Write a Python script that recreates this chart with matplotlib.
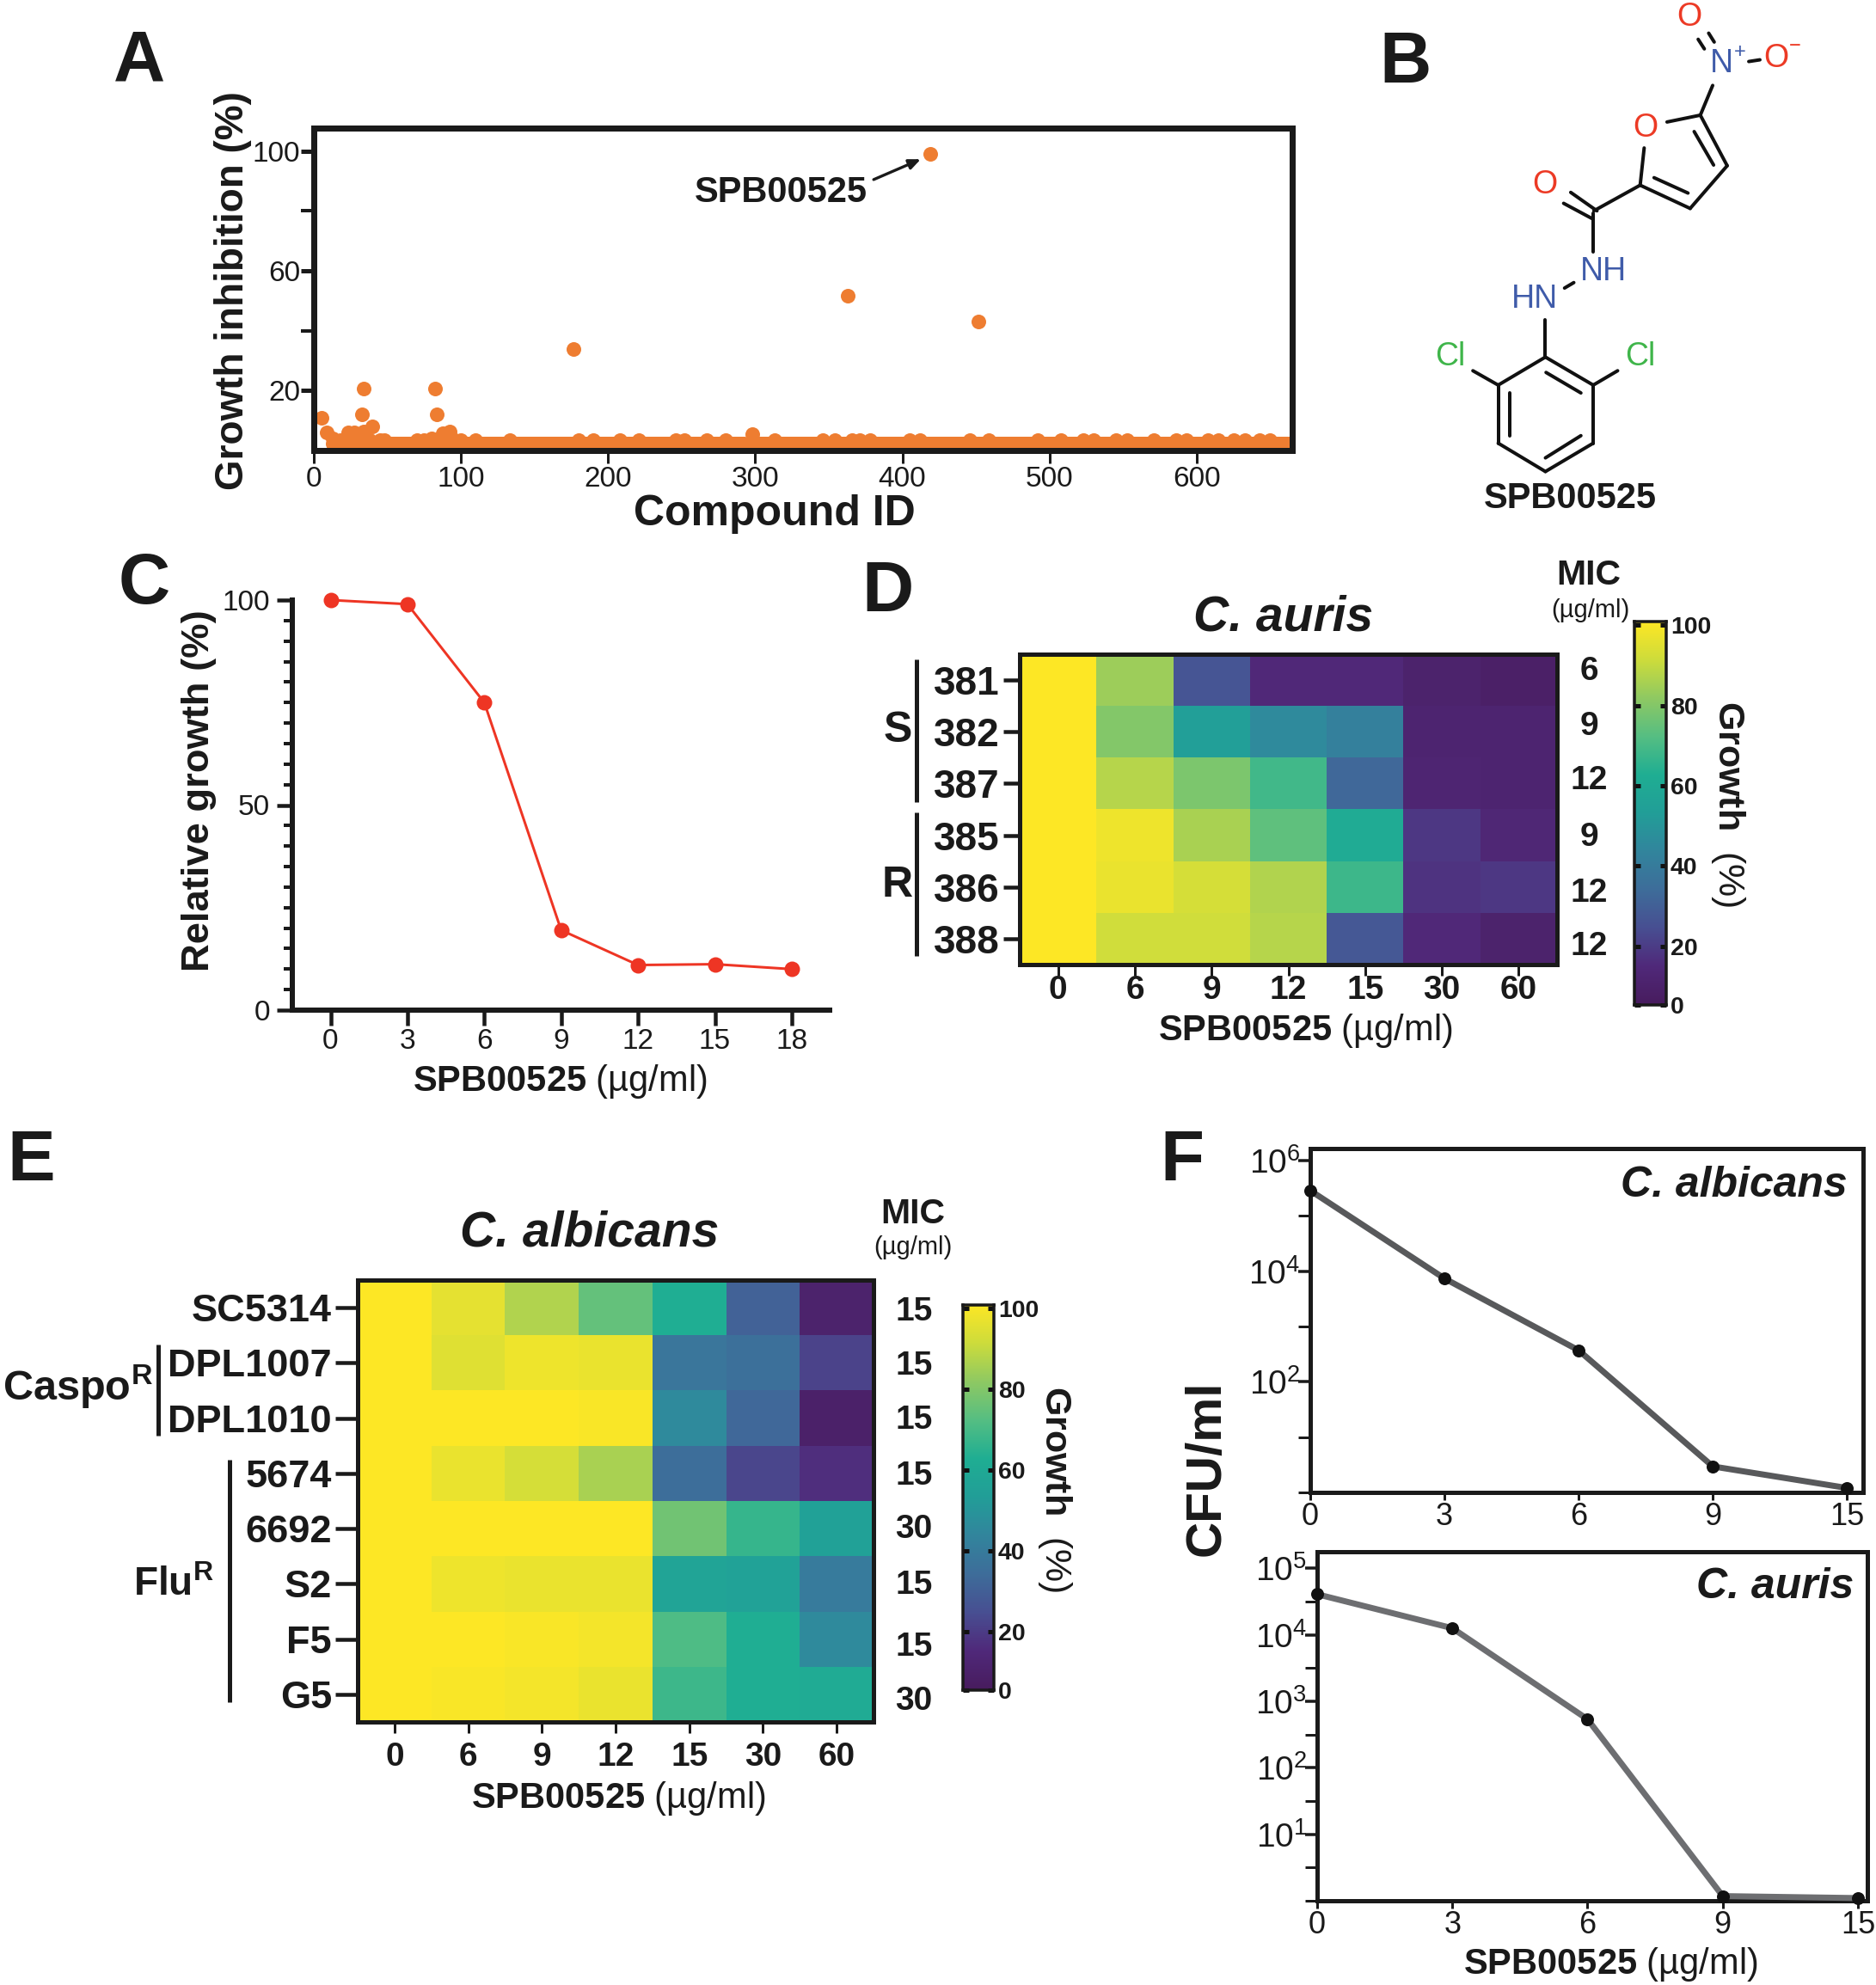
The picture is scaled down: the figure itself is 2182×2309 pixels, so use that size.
import numpy as np
import matplotlib
matplotlib.use("Agg")
import matplotlib.pyplot as plt
from matplotlib.colors import LinearSegmentedColormap

plt.rcParams['font.family'] = ['Liberation Sans', 'DejaVu Sans']
plt.rcParams['mathtext.fontset'] = 'custom'
plt.rcParams['mathtext.rm'] = 'Liberation Sans'
plt.rcParams['mathtext.bf'] = 'Liberation Sans:bold'
plt.rcParams['mathtext.it'] = 'Liberation Sans:italic'
plt.rcParams['mathtext.default'] = 'regular'

# ---------- data ----------
a_hit_ids = [5.4, 9, 13, 23.5, 27.5, 33, 34, 33.7, 40, 82.6, 83.6, 80, 87.5, 92.6, 176.5, 298, 363, 419, 452]
a_hit_vals = [10.8, 6, 4, 6, 6, 12, 6.2, 20.6, 8, 20.6, 12.2, 4, 5.8, 6.2, 34, 5.4, 51.8, 99, 43]
a_bump_ids = [18, 20, 22, 25, 30, 37, 38, 45, 48, 70, 75, 88, 90, 95, 96, 100, 110, 133, 180, 190, 208, 221, 246,
              252, 267, 280, 313, 346, 354, 366, 371, 378, 405, 412, 446, 459, 492, 508, 523, 530, 545, 553,
              571, 586, 593, 608, 615, 625, 633, 643, 650]
a_bump_val = 3.4
a_floor_first, a_floor_last = 13, 664
a_floor_val = 2.2
a_floor_gap = [293, 294, 295, 296, 297, 299, 300, 301]

c_dose = [0, 3, 6, 9, 12, 15, 18]
c_growth = [100, 99, 75, 19.5, 11, 11.2, 10]

dose_labels = ['0', '6', '9', '12', '15', '30', '60']
d_strains = ['381', '382', '387', '385', '386', '388']
d_mic = ['6', '9', '12', '9', '12', '12']
d_381 = [100, 83, 26, 14, 14, 10, 8]
d_382 = [100, 79, 53, 45, 41, 11, 11]
d_387 = [100, 87, 78, 68, 32, 12, 11]
d_385 = [100, 97, 85, 73, 60, 18, 13]
d_386 = [100, 96, 92, 86, 67, 17, 18]
d_388 = [100, 91, 91, 87, 27, 14, 10]

e_strains = ['SC5314', 'DPL1007', 'DPL1010', '5674', '6692', 'S2', 'F5', 'G5']
e_mic = ['15', '15', '15', '15', '30', '15', '15', '30']
e_sc = [100, 95, 86, 74, 62, 30, 10]
e_1007 = [100, 94, 97, 96, 37, 35, 21]
e_1010 = [100, 100, 100, 99, 45, 32, 9]
e_5674 = [100, 96, 92, 85, 34, 22, 16]
e_6692 = [100, 100, 100, 100, 76, 66, 54]
e_s2 = [100, 97, 96, 96, 56, 55, 39]
e_f5 = [100, 100, 99, 98, 70, 62, 45]
e_g5 = [100, 99, 98, 96, 67, 62, 60]

f_dose = ['0', '3', '6', '9', '15']
f_albicans = [10**5.46, 10**3.87, 10**2.57, 10**0.47, 10**0.08]
f_auris = [10**4.61, 10**4.1, 10**2.73, 10**0.07, 10**0.04]

W, H = 2182, 2309
DPI = 100
PX = 72 / DPI
fig = plt.figure(figsize=(W / DPI, H / DPI), dpi=DPI, facecolor='white')
INK = '#1a1a1a'


def box(l, t, r, b, **kw):
    return fig.add_axes([l / W, 1 - b / H, (r - l) / W, (b - t) / H], **kw)


def T(x, y, s, size, weight='normal', style='normal', ha='center', va='center', rotation=0, color=INK, **kw):
    return fig.text(x / W, 1 - y / H, s, fontsize=size, fontweight=weight, fontstyle=style,
                    ha=ha, va=va, rotation=rotation, color=color, **kw)


def spines(ax, lw_px, which=('left', 'right', 'top', 'bottom')):
    for k, s in ax.spines.items():
        s.set_visible(k in which)
        s.set_linewidth(lw_px * PX)
        s.set_color(INK)
        s.set_zorder(10)


# overlay for annotation artwork in pixel coordinates
ov = fig.add_axes([0, 0, 1, 1], zorder=20)
ov.set_xlim(0, W)
ov.set_ylim(H, 0)
ov.axis('off')
ov.patch.set_alpha(0)


def seg(x0, y0, x1, y1, lw=5, color=INK):
    ov.plot([x0, x1], [y0, y1], color=color, lw=lw * PX, solid_capstyle='butt')


# panel letters
for s, x, y in [('A', 162, 72), ('B', 1634, 74), ('C', 168, 680), ('D', 1033, 689), ('E', 36, 1351), ('F', 1375, 1351)]:
    T(x, y, s, 60, weight='bold')

# ---------- Panel A ----------
axA = box(365, 149, 1503, 524)
spines(axA, 7)
floor_ids = [i for i in np.arange(a_floor_first, a_floor_last + 1) if i not in a_floor_gap]
DOT = (17 * PX) ** 2
axA.scatter(floor_ids, [a_floor_val] * len(floor_ids), s=DOT, c='#ee7d31', linewidths=0)
axA.scatter(a_bump_ids, [a_bump_val] * len(a_bump_ids), s=DOT, c='#ee7d31', linewidths=0)
axA.scatter(a_hit_ids, a_hit_vals, s=DOT, c='#ee7d31', linewidths=0)
axA.set_xlim(0, 665)
axA.set_ylim(0, 107.7)
axA.set_xticks(range(0, 601, 100))
axA.set_yticks([20, 60, 100])
axA.set_yticks([40, 80], minor=True)
axA.tick_params(axis='x', length=15 * PX, width=3 * PX, labelsize=24, pad=3 * PX, color=INK, labelcolor=INK)
axA.tick_params(axis='y', which='major', length=15 * PX, width=5 * PX, labelsize=24, pad=1 * PX, color=INK, labelcolor=INK)
axA.tick_params(axis='y', which='minor', length=15 * PX, width=4 * PX, color=INK)
axA.annotate('', xy=(412.5, 97.3), xytext=(380.5, 90.5),
             arrowprops=dict(arrowstyle='-|>,head_width=0.35,head_length=0.8', lw=2.4, color=INK, shrinkA=0, shrinkB=0))
T(908, 224, 'SPB00525', 30, weight='bold')
T(271, 338, 'Growth inhibition (%)', 33, weight='bold', rotation=90)
T(901, 598, 'Compound ID', 36, weight='bold')

# ---------- Panel B ----------
RED, BLUE, GREEN = '#ec3a25', '#3f5ba9', '#3fb54a'


def bx(z):
    return 1599 + z / 2.786


def by(z):
    return 2 + z / 2.516


bonds = [(1095, 245, 1055, 332), (1082, 92, 1100, 118), (1048, 110, 1068, 138), (1212, 175, 1248, 170),
         (947, 352, 1055, 332), (1055, 332, 1142, 480), (1035, 380, 1098, 478), (1142, 480, 1022, 605),
         (1022, 605, 860, 537), (905, 515, 1015, 560), (860, 537, 873, 428), (860, 537, 710, 612),
         (720, 612, 635, 558), (705, 635, 612, 590), (708, 620, 708, 732), (615, 838, 645, 822),
         (553, 930, 553, 1040), (553, 1040, 708, 1122), (708, 1122, 708, 1292), (708, 1292, 553, 1375),
         (553, 1375, 400, 1292), (400, 1292, 400, 1122), (400, 1122, 553, 1040), (555, 1085, 668, 1145),
         (668, 1270, 553, 1335), (438, 1270, 438, 1145), (318, 1080, 400, 1122), (708, 1122, 787, 1080)]
for a, b, c, d in bonds:
    ov.plot([bx(a), bx(c)], [by(b), by(d)], color='#111111', lw=4 * PX, solid_capstyle='round')
for s, zx, zy, col in [('O', 1018, 45, RED), ('N', 1125, 180, BLUE), ('O', 1300, 165, RED), ('O', 878, 370, RED),
                       ('O', 552, 535, RED), ('NH', 742, 790, BLUE), ('HN', 517, 870, BLUE),
                       ('Cl', 245, 1038, GREEN), ('Cl', 860, 1038, GREEN), ('+', 1183, 148, BLUE), ('\u2212', 1362, 130, RED)]:
    sz = 17 if s in ('+', '\u2212') else 27
    T(bx(zx), by(zy), s, sz, color=col)
T(1826, 580, 'SPB00525', 30, weight='bold')

# ---------- Panel C ----------
axC = box(340, 698, 965, 1175)
spines(axC, 6, which=('left', 'bottom'))
axC.plot(c_dose, c_growth, color='#ee3524', lw=3 * PX, marker='o', ms=18 * PX, mec='none', clip_on=False)
axC.set_xlim((340 - 384.5) / 29.8, (965 - 384.5) / 29.8)
axC.set_ylim(0, 100)
axC.set_xticks(c_dose)
axC.set_yticks([0, 50, 100])
axC.set_yticks([v for v in range(5, 100, 5) if v != 50], minor=True)
axC.tick_params(axis='x', which='major', length=18 * PX, width=4.5 * PX, labelsize=24, pad=3 * PX, color=INK, labelcolor=INK)
axC.tick_params(axis='y', which='major', length=18 * PX, width=4.5 * PX, labelsize=24, pad=8 * PX, color=INK, labelcolor=INK)
axC.tick_params(axis='y', which='minor', length=10 * PX, width=4 * PX, color=INK)
T(231, 920, 'Relative growth (%)', 32.7, weight='bold', rotation=90)
T(651, 1258, r'$\mathbf{SPB00525}$ (µg/ml)', 30)

# ---------- Heatmaps ----------
cmap = LinearSegmentedColormap.from_list('print_viridis', [
    (0.00, '#481c5e'), (0.10, '#50297a'), (0.20, '#484f92'), (0.30, '#3e6d9a'), (0.40, '#32859d'),
    (0.50, '#229e98'), (0.60, '#1fae93'), (0.70, '#55be83'), (0.80, '#8ec963'), (0.90, '#cddc3c'), (1.00, '#fde725')])


def heat(l, t, r, b, rows, labels, fs_row, xpad, ytick_len):
    ax = box(l, t, r, b)
    spines(ax, 5)
    ax.pcolormesh(np.array(rows, float), cmap=cmap, vmin=5, vmax=100, linewidth=0, rasterized=True)
    ax.invert_yaxis()
    ax.set_xticks(np.arange(7) + 0.5, dose_labels)
    ax.set_yticks(np.arange(len(labels)) + 0.5, labels)
    ax.tick_params(axis='x', length=13 * PX, width=3 * PX, labelsize=28, pad=xpad * PX, color=INK, labelcolor=INK)
    ax.tick_params(axis='y', length=ytick_len * PX, width=4.5 * PX, labelsize=fs_row, pad=4 * PX, color=INK, labelcolor=INK)
    for t_ in ax.get_xticklabels() + ax.get_yticklabels():
        t_.set_fontweight('bold')
    return ax


def cbar(l, t, r, b):
    ax = box(l, t, r, b)
    spines(ax, 3.5)
    grad = np.linspace(5, 100, 256).reshape(-1, 1)
    ax.imshow(grad, origin='lower', aspect='auto', cmap=cmap, vmin=5, vmax=100, extent=(0, 1, 5.4, 100.9))
    ax.set_xticks([])
    ax.set_yticks([5.4, 20, 40, 60, 80, 100], ['0', '20', '40', '60', '80', '100'])
    ax.yaxis.tick_right()
    ax.tick_params(axis='y', direction='in', left=True, right=True, length=7 * PX, width=5 * PX,
                   labelsize=20.5, pad=5 * PX, color='#111111', labelcolor=INK)
    for t_ in ax.get_yticklabels():
        t_.set_fontweight('bold')


# ---------- Panel D ----------
heat(1186, 761, 1811, 1122, [d_381, d_382, d_387, d_385, d_386, d_388], d_strains, 33, -0.5, 19)
T(1493, 719, 'C. auris', 41, weight='bold', style='italic')
T(1848, 669, 'MIC', 29.5, weight='bold')
T(1850, 710, '(µg/ml)', 21)
for s, y in zip(d_mic, [781, 845, 908, 974, 1039, 1101]):
    T(1848, y, s, 28, weight='bold')
T(1044, 850, 'S', 36, weight='bold')
T(1044, 1030, 'R', 36, weight='bold')
seg(1066, 767, 1066, 933)
seg(1066, 945, 1066, 1112)
cbar(1901, 723, 1938, 1169)
T(2010, 935, r'$\mathbf{Growth}$  (%)', 31, rotation=-90)
T(1518, 1199, r'$\mathbf{SPB00525}$ (µg/ml)', 30)

# ---------- Panel E ----------
heat(416, 1489, 1016, 2003, [e_sc, e_1007, e_1010, e_5674, e_6692, e_s2, e_f5, e_g5], e_strains, 32.5, 10, 26)
T(686, 1434, 'C. albicans', 41, weight='bold', style='italic')
T(1062, 1412, 'MIC', 29.5, weight='bold')
T(1062, 1451, '(µg/ml)', 21)
for s, y in zip(e_mic, [1526, 1589, 1652, 1717, 1779, 1844, 1916, 1979]):
    T(1063, y, s, 28, weight='bold')
T(3, 1613, r'$\mathbf{Caspo^{R}}$', 35, ha='left')
T(155, 1844, r'$\mathbf{Flu^{R}}$', 33, ha='left')
seg(184, 1564, 184, 1670)
seg(267, 1698, 267, 1980)
cbar(1120, 1518, 1156, 1966)
T(1227, 1732, r'$\mathbf{Growth}$  (%)', 31, rotation=-90)
T(719, 2092, r'$\mathbf{SPB00525}$ (µg/ml)', 30)


# ---------- Panel F ----------
def cfu(l, t, r, b, vals, ymax, major, major_lab, minor, xmax, col):
    ax = box(l, t, r, b)
    spines(ax, 5)
    ax.set_yscale('log')
    ax.plot(range(5), vals, color=col, lw=7 * PX, marker='o', ms=15 * PX, mfc='#111111', mec='none', clip_on=False, zorder=11)
    ax.set_xlim(0, xmax)
    ax.set_ylim(1, ymax)
    ax.set_xticks(range(5), f_dose)
    ax.set_yticks(major, major_lab)
    ax.set_yticks(minor, [''] * len(minor), minor=True)
    ax.tick_params(axis='x', length=9 * PX, width=3 * PX, labelsize=26, pad=2 * PX, color=INK, labelcolor=INK)
    ax.tick_params(axis='y', which='major', length=14 * PX, width=3.5 * PX, labelsize=28, pad=-2 * PX, color=INK, labelcolor=INK)
    ax.tick_params(axis='y', which='minor', length=14 * PX, width=3 * PX, color=INK)
    return ax


cfu(1524, 1336, 2167, 1736, f_albicans, 10**6.22, [1e2, 1e4, 1e6],
    [r'$10^{2}$', r'$10^{4}$', r'$10^{6}$'], [1, 1e1, 1e3, 1e5], 4.12, '#58595b')
cfu(1532, 1805, 2172, 2211, f_auris, 10**5.25, [1e1, 1e2, 1e3, 1e4, 1e5],
    [r'$10^{1}$', r'$10^{2}$', r'$10^{3}$', r'$10^{4}$', r'$10^{5}$'],
    [1, 10**0.5, 10**1.5, 10**2.5, 10**3.5, 10**4.5], 4.07, '#6d6e71')
T(2017, 1379, 'C. albicans', 36, weight='bold', style='italic')
T(2065, 1846, 'C. auris', 36, weight='bold', style='italic')
T(1404, 1708, 'CFU/ml', 42, weight='bold', rotation=90)
T(1873, 2285, r'$\mathbf{SPB00525}$ (µg/ml)', 30)

fig.savefig('out.png', dpi=DPI)
